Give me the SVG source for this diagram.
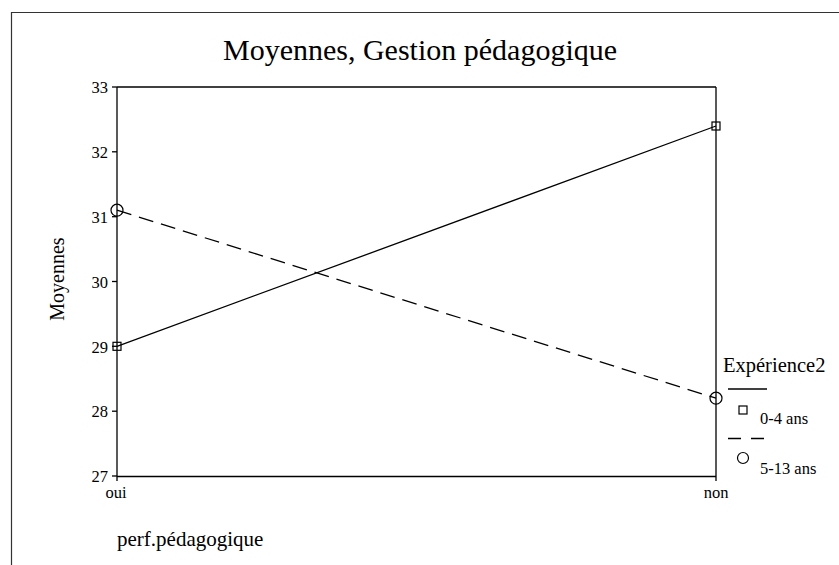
<svg xmlns="http://www.w3.org/2000/svg" width="839" height="565" viewBox="0 0 839 565">
<style>
text{font-family:"Liberation Serif","Times New Roman",serif;fill:#000}
.tick{font-size:16.5px}
.ax{stroke:#000;stroke-width:1.3;fill:none}
.mk{stroke:#000;stroke-width:1.2;fill:none}
</style>
<rect width="839" height="565" fill="#fff"/>
<g id="frame">
<line x1="11" y1="12.5" x2="839" y2="12.5" stroke="#333" stroke-width="1.2"/>
<line x1="11.5" y1="12" x2="11.5" y2="565" stroke="#333" stroke-width="1.2"/>
</g>
<g id="title"><text x="420" y="60" font-size="30" text-anchor="middle">Moyennes, Gestion pédagogique</text></g>
<g id="axes">
<line class="ax" x1="117" y1="87" x2="716" y2="87"/>
<line class="ax" x1="716" y1="87" x2="716" y2="476"/>
<line class="ax" x1="117" y1="476.5" x2="716" y2="476.5" stroke-width="1.6"/>
<line class="ax" x1="117" y1="87" x2="117" y2="481" stroke-width="1.8"/>
<line class="ax" x1="716" y1="476" x2="716" y2="481"/>
<g class="ax">
<line x1="112" y1="87" x2="117" y2="87"/>
<line x1="112" y1="151.8" x2="117" y2="151.8"/>
<line x1="112" y1="216.7" x2="117" y2="216.7"/>
<line x1="112" y1="281.5" x2="117" y2="281.5"/>
<line x1="112" y1="346.3" x2="117" y2="346.3"/>
<line x1="112" y1="411.2" x2="117" y2="411.2"/>
<line x1="112" y1="476" x2="117" y2="476"/>
</g>
<g class="tick" text-anchor="end">
<text x="108" y="93">33</text>
<text x="108" y="158">32</text>
<text x="108" y="223">31</text>
<text x="108" y="287.5">30</text>
<text x="108" y="352.5">29</text>
<text x="108" y="417">28</text>
<text x="108" y="482">27</text>
</g>
<text class="tick" x="116" y="498" text-anchor="middle">oui</text>
<text class="tick" x="716" y="498" text-anchor="middle">non</text>
<text x="64" y="279" font-size="20" text-anchor="middle" transform="rotate(-90 64 279)">Moyennes</text>
<text x="117" y="546" font-size="21">perf.pédagogique</text>
</g>
<g id="connectors">
<line x1="117" y1="346.3" x2="716" y2="126" stroke="#000" stroke-width="1.3"/>
<line x1="117" y1="210.2" x2="716" y2="398.2" stroke="#000" stroke-width="1.3" stroke-dasharray="15 8"/>
</g>
<g id="series-0-4">
<rect class="mk" x="113" y="342.3" width="8" height="8" fill="#fff"/>
<rect class="mk" x="712" y="122" width="8" height="8" fill="#fff"/>
</g>
<g id="series-5-13">
<circle class="mk" cx="117" cy="210.2" r="6"/>
<circle class="mk" cx="716" cy="398.2" r="6"/>
</g>
<g id="legend">
<text x="723" y="371.5" font-size="20.5">Expérience2</text>
<line x1="728" y1="389" x2="767" y2="389" stroke="#000" stroke-width="1.3"/>
<rect class="mk" x="739" y="406" width="8" height="8"/>
<text class="tick" x="760" y="424">0-4 ans</text>
<line x1="728" y1="438.5" x2="767" y2="438.5" stroke="#000" stroke-width="1.3" stroke-dasharray="13 10"/>
<circle class="mk" cx="743" cy="458" r="5.5"/>
<text class="tick" x="760" y="474">5-13 ans</text>
</g>
</svg>
